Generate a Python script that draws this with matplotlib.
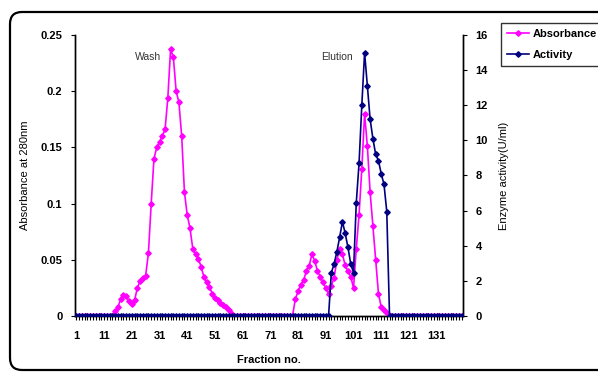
import matplotlib
matplotlib.use('Agg')
import matplotlib.pyplot as plt
from matplotlib.patches import FancyBboxPatch
from matplotlib.lines import Line2D

plt.rcParams['font.family'] = ['Liberation Sans', 'DejaVu Sans']

# fraction numbers 1..140
fractions = list(range(1, 141))

# absorbance at 280 nm (left axis)
absorbance = ([0.0] * 14 +
              [0.004, 0.008, 0.015, 0.019, 0.018, 0.013, 0.011, 0.014, 0.025, 0.031,
               0.034, 0.036, 0.056, 0.100, 0.140, 0.150, 0.155, 0.160, 0.166, 0.194,
               0.2375, 0.230, 0.200, 0.190, 0.160, 0.110, 0.090, 0.078, 0.060, 0.055,
               0.051, 0.044, 0.035, 0.030, 0.026, 0.020, 0.016, 0.014, 0.012, 0.010,
               0.008, 0.005, 0.002] +
              [0.0] * 22 +
              [0.015, 0.022, 0.028, 0.032, 0.040, 0.0445, 0.055, 0.049, 0.040, 0.035,
               0.030, 0.025, 0.020, 0.027, 0.034, 0.050, 0.060, 0.055, 0.045, 0.040,
               0.035, 0.025, 0.060, 0.090, 0.131, 0.180, 0.151, 0.110, 0.080, 0.050,
               0.020, 0.008, 0.005, 0.003] +
              [0.0] * 27)

# enzyme activity U/ml (right axis)
activity = ([0.0] * 92 +
            [2.47, 2.96, 3.66, 4.48, 5.37, 4.71, 3.91, 2.96, 2.47, 6.45,
             8.69, 12.0, 15.0, 13.1, 11.2, 10.1, 9.2, 8.85, 8.1, 7.5, 5.95] +
            [0.0] * 27)

xtick_labels = list(range(1, 141, 10))

fig = plt.figure(figsize=(5.98, 3.74), dpi=100)
ax1 = fig.add_axes([0.1254, 0.1551, 0.6488, 0.7513])
ax2 = ax1.twinx()

ax1.plot(fractions, absorbance, color='#FF00FF', lw=1.2, marker='D', ms=2.8, mec='#FF00FF', zorder=3)
ax2.plot(fractions, activity, color='#000080', lw=1.2, marker='D', ms=2.8, mec='#000080', zorder=3)

ax1.set_xlim(0.5, 140.5)
ax1.set_ylim(0, 0.25)
ax2.set_ylim(0, 16)
ax1.set_yticks([0, 0.05, 0.1, 0.15, 0.2, 0.25])
ax1.set_yticklabels(['0', '0.05', '0.1', '0.15', '0.2', '0.25'])
ax2.set_yticks(range(0, 17, 2))

ax1.set_xticks(fractions)
ax1.set_xticklabels([str(f) if f in xtick_labels else '' for f in fractions])

for ax in (ax1, ax2):
    ax.spines['top'].set_visible(False)
    for s in ax.spines.values():
        s.set_linewidth(1.0)
        s.set_color('black')
    ax.patch.set_visible(False)

ax1.tick_params(axis='x', direction='out', length=3, width=0.8, pad=8, labelsize=8)
ax1.tick_params(axis='y', direction='out', length=3, width=0.8, pad=6, labelsize=8)
ax2.tick_params(axis='y', direction='out', length=3, width=0.8, pad=6, labelsize=8)
for lab in ax1.get_xticklabels() + ax1.get_yticklabels() + ax2.get_yticklabels():
    lab.set_fontweight('bold')

ax1.set_xlabel('Fraction no.', fontsize=8, fontweight='bold', labelpad=10)
ax1.set_ylabel('Absorbance at 280nm', fontsize=8, labelpad=8)
ax2.set_ylabel('Enzyme activity(U/ml)', fontsize=8, labelpad=8)

ax1.text(148 / 598, 1 - 57 / 374, 'Wash', transform=fig.transFigure, fontsize=7.5,
         ha='center', va='center', color='#333333')
ax1.text(337 / 598, 1 - 57 / 374, 'Elution', transform=fig.transFigure, fontsize=7.5,
         ha='center', va='center', color='#333333')

handles = [Line2D([], [], color='#FF00FF', lw=1.2, marker='D', ms=2.8),
           Line2D([], [], color='#000080', lw=1.2, marker='D', ms=2.8)]
leg = fig.legend(handles, ['Absorbance', 'Activity'], loc='upper left',
                 bbox_to_anchor=(501 / 598, 1 - 23 / 374), fancybox=False,
                 prop={'size': 8, 'weight': 'bold'}, handlelength=2.0,
                 handletextpad=0.3, borderpad=0.55, labelspacing=1.0, borderaxespad=0)
leg.get_frame().set_edgecolor('black')
leg.get_frame().set_linewidth(1.0)

border = FancyBboxPatch((0.1, 0.04), 6.3, 3.58, boxstyle='round,pad=0,rounding_size=0.12',
                        transform=fig.dpi_scale_trans, fill=False, edgecolor='black',
                        linewidth=1.6, clip_on=False)
fig.patches.append(border)

fig.savefig('out.png', dpi=100)
